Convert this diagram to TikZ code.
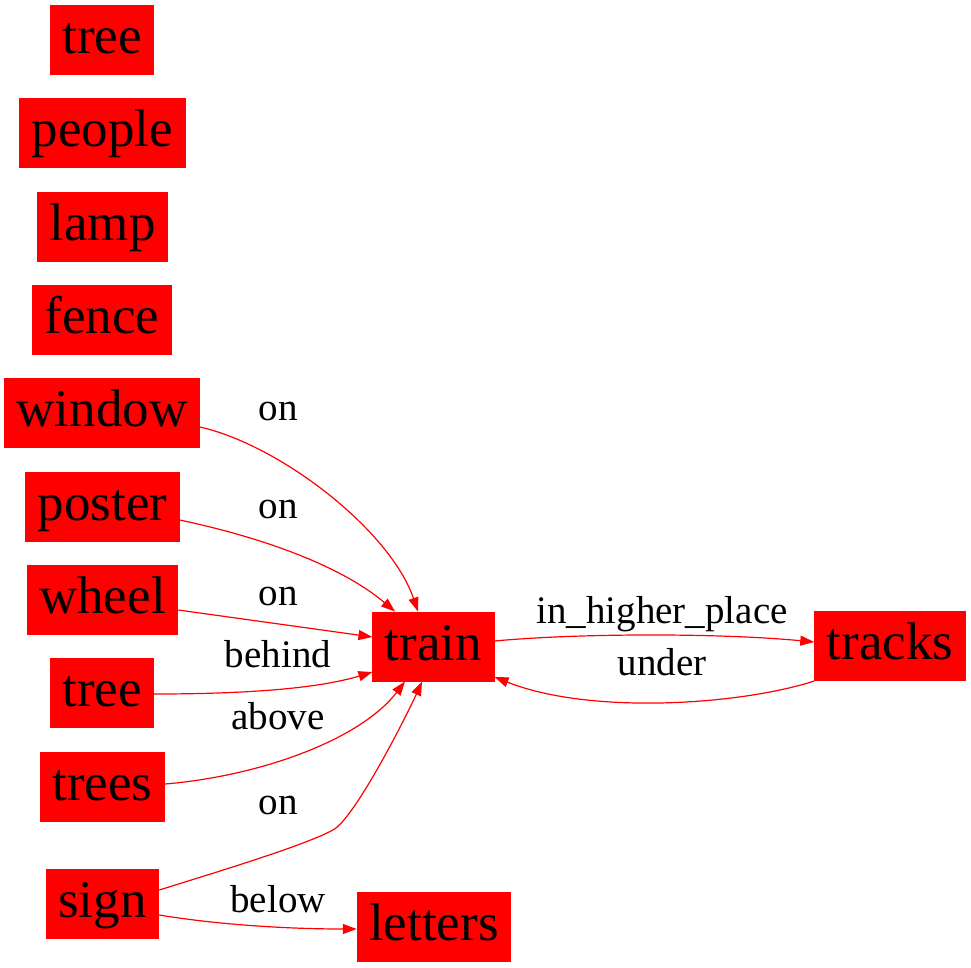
\documentclass[tikz,border=0pt]{standalone}
\usepackage{fontspec}
\setmainfont{Liberation Serif}
\usetikzlibrary{arrows.meta}

\begin{document}
\begin{tikzpicture}[x=1pt,y=-1pt,
  obj/.style={fill=red,inner xsep=12.5pt,inner ysep=0pt,minimum height=70pt,outer sep=0pt,
    text height=39pt,text depth=11.6pt,font=\fontsize{53}{60}\selectfont},
  rel/.style={anchor=base,font=\fontsize{39}{44}\selectfont},
  link/.style={draw=red,line width=1.2pt,-{Triangle[length=14pt,width=10pt]}}]
  \useasboundingbox (0,0) rectangle (971,967);

  % Left column of objects
  \node[obj] (tree) at (102,40) {tree};
  \node[obj] (people) at (102.5,133) {people};
  \node[obj] (lamp) at (102.5,226.5) {lamp};
  \node[obj] (fence) at (102,319.5) {fence};
  \node[obj] (window) at (102,413) {window};
  \node[obj] (poster) at (102.5,506.5) {poster};
  \node[obj] (wheel) at (102.5,600) {wheel};
  \node[obj] (tree2) at (102,693) {tree};
  \node[obj] (trees) at (102.5,786.5) {trees};
  \node[obj] (sign) at (102.5,904) {sign};

  % Right part
  \node[obj] (train) at (433.5,646.5) {train};
  \node[obj] (letters) at (434,926.5) {letters};
  \node[obj] (tracks) at (890,646) {tracks};

  % Relations into train
  \draw[link] ([yshift=-14pt]window.east) .. controls (280,445) and (390,530) .. ([xshift=-15.5pt]train.north);
  \draw[link] ([yshift=-13.5pt]poster.east) .. controls (260,537) and (340,565) .. ([xshift=-38.5pt]train.north);
  \draw[link] ([yshift=-10pt]wheel.east) -- ([yshift=9.5pt]train.west);
  \draw[link] ([yshift=-1pt]tree2.east) .. controls (250,694) and (320,688) .. ([yshift=-25.5pt]train.west);
  \draw[link] ([yshift=2.5pt]trees.east) .. controls (260,776) and (360,740) .. ([xshift=-28.5pt]train.south);
  \draw[link] ([yshift=14pt]sign.east) .. controls (230,868) and (305,845) .. (333,830)
    .. controls (355,818) and (407,715) .. ([xshift=-11.5pt]train.south);
  \draw[link] ([yshift=-11pt]sign.east) .. controls (220,925) and (290,929) .. ([yshift=-2.5pt]letters.west);

  % Train and tracks
  \draw[link] ([yshift=5.5pt]train.east) .. controls (580,633) and (720,633) .. ([yshift=4pt]tracks.west);
  \draw[link] (tracks.south west) .. controls (740,705) and (590,715) .. ([yshift=-30.5pt]train.east);

  % Labels
  \node[rel] (on1) at (278,420) {on};
  \node[rel] (on2) at (278,518) {on};
  \node[rel] (on3) at (278,605) {on};
  \node[rel] (behind) at (278,667) {behind};
  \node[rel] (above) at (278,729) {above};
  \node[rel] (on4) at (278,814) {on};
  \node[rel] (below) at (278,912) {below};
  \node[rel] (higher) at (662,623) {in\_higher\_place};
  \node[rel] (under) at (662,675) {under};
\end{tikzpicture}
\end{document}
